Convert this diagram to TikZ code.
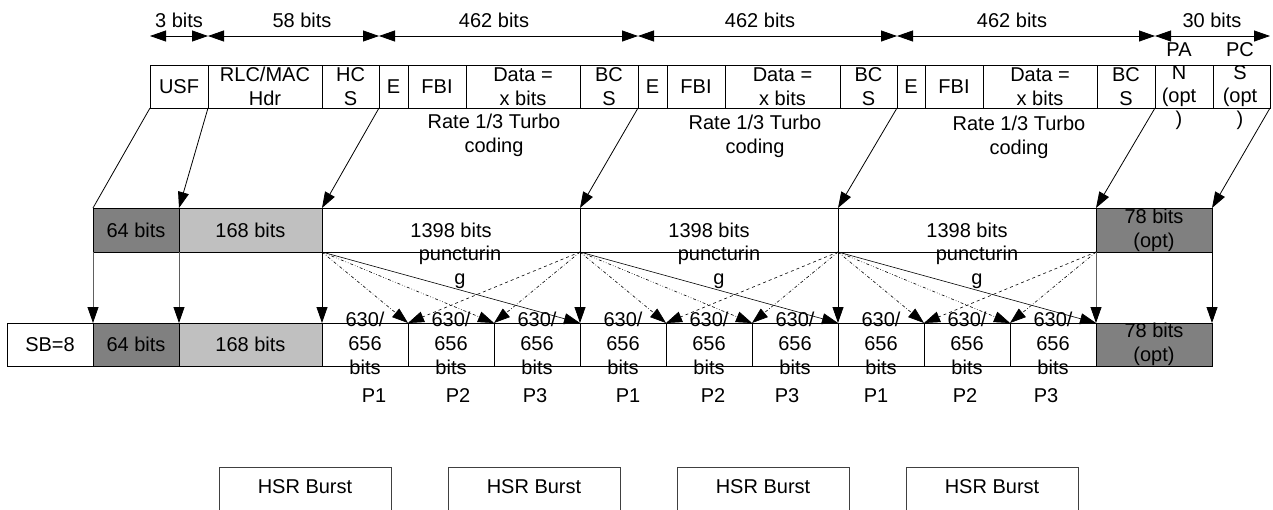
\documentclass[tikz,border=0pt]{standalone}
\usepackage{fontspec}
\setmainfont{Liberation Sans}
\usetikzlibrary{arrows.meta}
\definecolor{dk}{HTML}{808080}
\definecolor{lt}{HTML}{C0C0C0}
\definecolor{ln}{HTML}{606060}
\newcommand\cellnode[7]{%
  \node[cellbox,#6,minimum width={(#3)-(#2)},minimum height={(#5)-(#4)},anchor=north west] (#1) at (#2,#4) {};
  \node[txt] (#1-t) at (#1.center) {#7};}
\begin{document}
\begin{tikzpicture}[x=1pt,y=-1pt,
  font=\fontsize{20}{24}\selectfont,
  cellbox/.style={draw,line width=0.9pt,inner sep=0pt,outer sep=0pt},
  txt/.style={align=center,inner sep=0pt},
  tip/.tip={Triangle[length=16pt,width=11pt,color=black]},
  arr/.style={line width=0.8pt,-tip},
  dimarr/.style={line width=0.8pt,tip-tip},
  pl/.style={line width=0.6pt,-tip},
  dark/.style={fill=dk},
  light/.style={fill=lt},
  burst/.style={draw=black!75,line width=0.8pt,inner sep=0pt,outer sep=0pt,minimum width=172,minimum height=44,anchor=north west}
]
\useasboundingbox (0,0) rectangle (1273,509);
\fill[white] (0,0) rectangle (1273,509);
\begin{scope}
\clip (0,0) rectangle (1273,509);

% ---------- top row ----------
\cellnode{usf}{150}{208}{65}{108}{}{USF}
\cellnode{rlc}{208}{322}{65}{108}{}{RLC/MAC\\Hdr}
\cellnode{hcs}{322}{379}{65}{108}{}{HC\\S}
\cellnode{e1}{379}{408}{65}{108}{}{E}
\cellnode{fbi1}{408}{466}{65}{108}{}{FBI}
\cellnode{data1}{466}{580}{65}{108}{}{Data =\\x bits}
\cellnode{bcs1}{580}{638}{65}{108}{}{BC\\S}
\cellnode{e2}{638}{667}{65}{108}{}{E}
\cellnode{fbi2}{667}{725}{65}{108}{}{FBI}
\cellnode{data2}{725}{840}{65}{108}{}{Data =\\x bits}
\cellnode{bcs2}{840}{897}{65}{108}{}{BC\\S}
\cellnode{e3}{897}{925}{65}{108}{}{E}
\cellnode{fbi3}{925}{983}{65}{108}{}{FBI}
\cellnode{data3}{983}{1097}{65}{108}{}{Data =\\x bits}
\cellnode{bcs3}{1097}{1155}{65}{108}{}{BC\\S}
\cellnode{pan}{1155}{1213}{65}{108}{}{}
\cellnode{pcs}{1213}{1270}{65}{108}{}{}
\node[txt,font=\fontsize{20}{23}\selectfont] (pantxt) at (1179,86) {PA\\N\\(opt\\)};
\node[txt,font=\fontsize{20}{23}\selectfont] (pcstxt) at (1240,86) {PC\\S\\(opt\\)};

% ---------- dimension arrows ----------
\coordinate (d0) at (150,36);
\coordinate (d1) at (208,36);
\coordinate (d2) at (379,36);
\coordinate (d3) at (638,36);
\coordinate (d4) at (897,36);
\coordinate (d5) at (1155,36);
\coordinate (d6) at (1270,36);
\draw[dimarr] (d0) -- (d1);
\draw[dimarr] (d1) -- (d2);
\draw[dimarr] (d2) -- (d3);
\draw[dimarr] (d3) -- (d4);
\draw[dimarr] (d4) -- (d5);
\draw[dimarr] (d5) -- (d6);
\node[txt] (l0) at (179,20) {3 bits};
\node[txt] (l1) at (302,20) {58 bits};
\node[txt] (l2) at (494,20) {462 bits};
\node[txt] (l3) at (760,20) {462 bits};
\node[txt] (l4) at (1012,20) {462 bits};
\node[txt] (l5) at (1212,20) {30 bits};

% ---------- coding labels ----------
\node[txt] (rate1) at (494,135) {Rate 1/3 Turbo\\coding};
\node[txt] (rate2) at (755,136) {Rate 1/3 Turbo\\coding};
\node[txt] (rate3) at (1019,137) {Rate 1/3 Turbo\\coding};

% ---------- middle row ----------
\cellnode{m64}{93}{179}{208}{252}{dark}{64 bits}
\cellnode{m168}{179}{322}{208}{252}{light}{168 bits}
\cellnode{mA}{322}{580}{208}{252}{}{1398 bits}
\cellnode{mB}{580}{838}{208}{252}{}{1398 bits}
\cellnode{mC}{838}{1096}{208}{252}{}{1398 bits}
\cellnode{m78}{1096}{1212}{208}{252}{dark}{78 bits\\(opt)}

% ---------- bottom row ----------
\cellnode{sb}{7}{93}{323}{366}{}{SB=8}
\cellnode{b64}{93}{179}{323}{366}{dark}{64 bits}
\cellnode{b168}{179}{322}{323}{366}{light}{168 bits}
\cellnode{p1}{322}{408}{323}{366}{}{}
\cellnode{p2}{408}{494}{323}{366}{}{}
\cellnode{p3}{494}{580}{323}{366}{}{}
\cellnode{p4}{580}{666}{323}{366}{}{}
\cellnode{p5}{666}{752}{323}{366}{}{}
\cellnode{p6}{752}{838}{323}{366}{}{}
\cellnode{p7}{838}{924}{323}{366}{}{}
\cellnode{p8}{924}{1010}{323}{366}{}{}
\cellnode{p9}{1010}{1096}{323}{366}{}{}
\cellnode{b78}{1096}{1212}{323}{366}{dark}{78 bits\\(opt)}

% ---------- top -> middle connectors ----------
\draw[line width=0.8pt] (usf.south west) -- (m64.north west);
\draw[arr] (rlc.south west) -- (m168.north west);
\draw[arr] (hcs.south east) -- (mA.north west);
\draw[arr] (bcs1.south east) -- (mB.north west);
\draw[arr] (bcs2.south east) -- (mC.north west);
\draw[arr] (bcs3.south east) -- (m78.north west);
\draw[arr] (pcs.south east) -- (m78.north east);

% ---------- middle -> bottom connectors ----------
\draw[arr,draw=ln] (m64.south west) -- (b64.north west);
\draw[arr,draw=ln] (m168.south west) -- (b168.north west);
\draw[arr] (mA.south west) -- (p1.north west);
\draw[arr] (mB.south west) -- (p4.north west);
\draw[arr] (mC.south west) -- (p7.north west);
\draw[arr,draw=ln] (m78.south west) -- (b78.north west);
\draw[arr] (m78.south east) -- (b78.north east);

% ---------- puncturing ----------
\foreach \m/\a/\b/\c in {mA/p1/p2/p3, mB/p4/p5/p6, mC/p7/p8/p9}{
  \draw[pl,dashdotted] (\m.south west) -- (\a.north east);
  \draw[pl,dashdotdotted] (\m.south west) -- (\b.north east);
  \draw[pl] (\m.south west) -- (\c.north east);
  \draw[pl,dashed] (\m.south east) -- (\a.north east);
  \draw[pl,dashdotted] (\m.south east) -- (\b.north east);
}

% ---------- texts over lines ----------
\node[txt] (punA) at (460,267.5) {puncturin\\g};
\node[txt] (punB) at (719,267.5) {puncturin\\g};
\node[txt] (punC) at (977,267.5) {puncturin\\g};
\foreach \p in {p1,p2,p3,p4,p5,p6,p7,p8,p9}{
  \node[txt] (\p-lab) at ([yshift=1]\p.center) {630/\\656\\bits};
}
\node[txt] (P1a) at (374,396) {P1};
\node[txt] (P2a) at (458,396) {P2};
\node[txt] (P3a) at (535,396) {P3};
\node[txt] (P1b) at (628,396) {P1};
\node[txt] (P2b) at (713,396) {P2};
\node[txt] (P3b) at (787,396) {P3};
\node[txt] (P1c) at (876,396) {P1};
\node[txt] (P2c) at (965,396) {P2};
\node[txt] (P3c) at (1046,396) {P3};

% ---------- HSR bursts ----------
\node[burst] (h1) at (219,467) {};
\node[burst] (h2) at (448,467) {};
\node[burst] (h3) at (677,467) {};
\node[burst] (h4) at (906,467) {};
\node[txt] (h1-t) at (305,487) {HSR Burst};
\node[txt] (h2-t) at (534,487) {HSR Burst};
\node[txt] (h3-t) at (763,487) {HSR Burst};
\node[txt] (h4-t) at (992,487) {HSR Burst};
\end{scope}
\end{tikzpicture}
\end{document}
